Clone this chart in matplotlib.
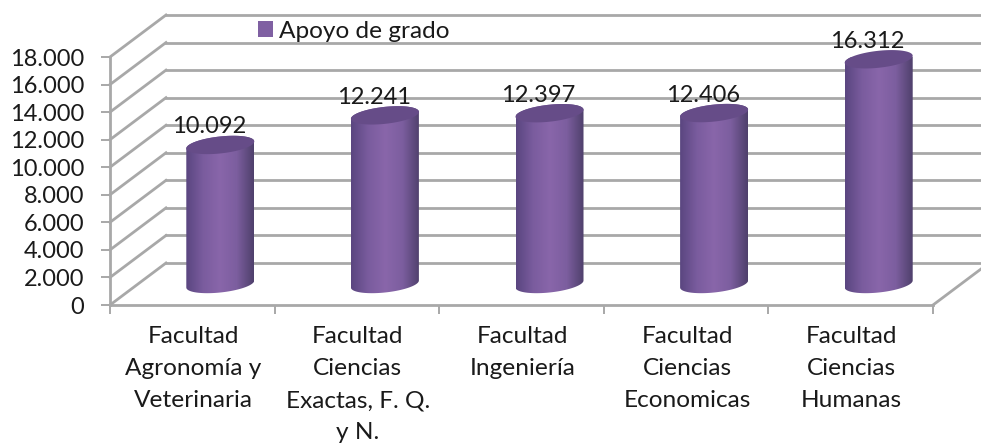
import numpy as np
import matplotlib
matplotlib.use("Agg")
import matplotlib.pyplot as plt
from matplotlib.colors import LinearSegmentedColormap
from matplotlib.patches import Patch, Polygon

plt.rcParams["font.family"] = ["Lato", "DejaVu Sans"]

#  Data
categories = ["Facultad\nAgronomía y\nVeterinaria", "Facultad\nCiencias\nExactas, F. Q.\ny N.",
              "Facultad\nIngeniería", "Facultad\nCiencias\nEconomicas", "Facultad\nCiencias\nHumanas"]
values = [10092, 12241, 12397, 12406, 16312]
y_ticks = [0, 2000, 4000, 6000, 8000, 10000, 12000, 14000, 16000, 18000]
series_name = "Apoyo de grado"

#  Depth of the fake 3D box
px_x = 5/823
px_y = 18000/248
depth_x = 56*px_x
depth_y = 42*px_y
grid_color = "#a8a8a8"
text_color = "#1a1a1a"
font_size = 17
word_size = 17.6

fig = plt.figure(figsize=(9.81, 4.48), dpi=100)
ax = fig.add_axes([110/981, (448-305)/448, 823/981, 248/448])
ax.patch.set_alpha(0)
for s in ax.spines.values():
    s.set_visible(False)

#  Walls and floor
for v in y_ticks:
    ax.plot([0, depth_x], [v, v+depth_y], color=grid_color, lw=2, clip_on=False, zorder=1)
    ax.plot([depth_x, 5+depth_x], [v+depth_y, v+depth_y], color=grid_color, lw=2, clip_on=False, zorder=1)
ax.plot([5, 5+depth_x], [0, depth_y], color=grid_color, lw=2, clip_on=False, zorder=1)
ax.plot([0, 0], [0, 18000], color=grid_color, lw=2, clip_on=False, zorder=2)
ax.plot([0, 5], [0, 0], color=grid_color, lw=2, clip_on=False, zorder=2)

#  Cylinders
cmap = LinearSegmentedColormap.from_list("cyl", ["#5a4680", "#7a5c9e", "#8966aa", "#7c5e9f", "#4f406c"])
gradient = np.linspace(0, 1, 128).reshape(1, -1)
half_w = 34*px_x
half_h = 8.5*px_y
tilt = 3.5*px_y
base = depth_y/2


def ellipse(xc, yc, t):
    return np.column_stack([xc+half_w*np.cos(t), yc+half_h*np.sin(t)+tilt*np.cos(t)])


for i, v in enumerate(values):
    xc = i+0.5+depth_x/2
    top = base+v
    body = np.vstack([ellipse(xc, base, np.linspace(np.pi, 2*np.pi, 60)),
                      ellipse(xc, top, np.linspace(0, np.pi, 60))])
    im = ax.imshow(gradient, cmap=cmap, aspect="auto", zorder=3,
                   extent=[xc-half_w, xc+half_w, base-2*half_h, top+2*half_h])
    im.set_clip_path(Polygon(body, closed=True, transform=ax.transData))
    ax.add_patch(Polygon(ellipse(xc, top, np.linspace(0, 2*np.pi, 120)), closed=True,
                         facecolor="#664c88", edgecolor="none", zorder=4, clip_on=False))
    ax.annotate("{:,}".format(v).replace(",", "."), (xc, top), xytext=(-11, 18),
                textcoords="offset pixels", ha="center", va="center",
                fontsize=font_size, color=text_color, zorder=5, annotation_clip=False)

ax.set_xlim(0, 5)
ax.set_ylim(0, 18000)

#  Axes text
ax.set_yticks(y_ticks)
ax.set_yticklabels(["{:,}".format(v).replace(",", ".") for v in y_ticks])
ax.set_xticks(range(0, 6))
ax.set_xticklabels([])
ax.tick_params(axis="both", color=grid_color, width=1.4, length=6.5, pad=12,
               labelsize=font_size, labelcolor=text_color)
for i, label in enumerate(categories):
    ax.annotate(label, (i+0.5, 0), xytext=(1, -21), textcoords="offset pixels", ha="center", va="top",
                fontsize=word_size, color=text_color, linespacing=1.65, annotation_clip=False)

#  Legend
fig.legend(handles=[Patch(facecolor="#7f60a2", label=series_name)], loc="center left",
           bbox_to_anchor=(258/981, 1-31/448), frameon=False, fontsize=word_size,
           labelcolor=text_color, handlelength=0.62, handleheight=0.62, handletextpad=0.25,
           borderaxespad=0, borderpad=0)

fig.savefig("out.png", dpi=100)
